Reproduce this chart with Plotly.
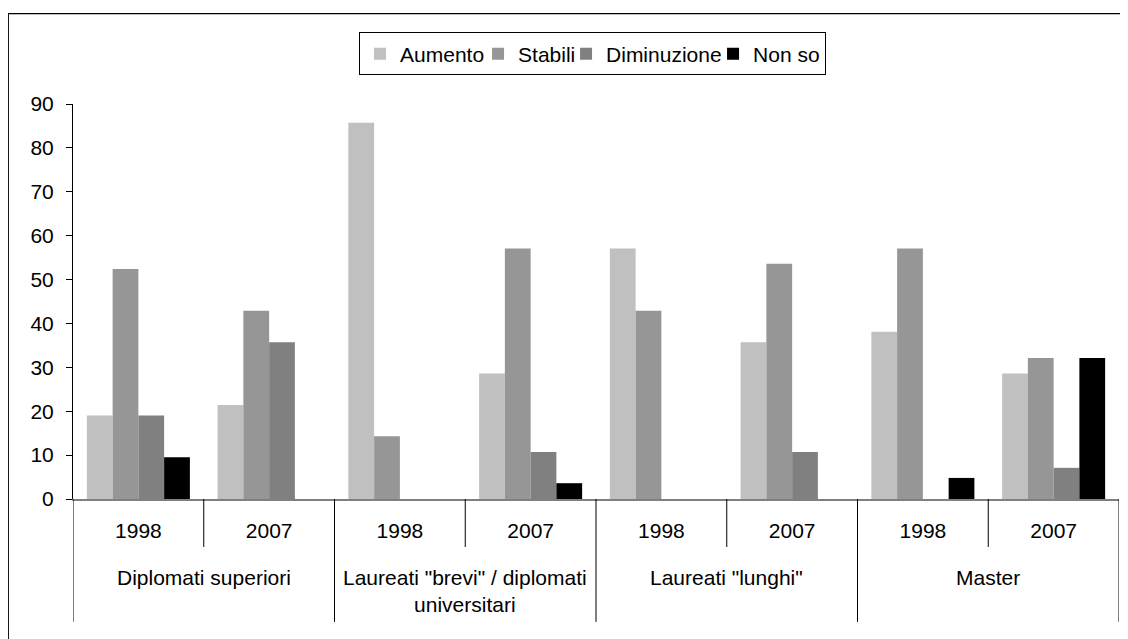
import plotly.graph_objects as go

# dati (% di risposte)
gruppi = ["Diplomati superiori", 'Laureati "brevi" / diplomati<br>universitari',
          'Laureati "lunghi"', "Master"]
anni = ["1998", "2007"]
serie = ["Aumento", "Stabili", "Diminuzione", "Non so"]
colori = ["#c0c0c0", "#969696", "#808080", "#000000"]

aumento = [19.0, 21.4, 85.7, 28.6, 57.1, 35.7, 38.1, 28.6]
stabili = [52.4, 42.9, 14.3, 57.1, 42.9, 53.6, 57.1, 32.1]
diminuzione = [19.0, 35.7, 0, 10.7, 0, 10.7, 0, 7.1]
non_so = [9.5, 0, 0, 3.6, 0, 0, 4.8, 32.1]
valori = [aumento, stabili, diminuzione, non_so]

n_anni = len(anni)
n_slot = len(gruppi) * n_anni
posizioni = list(range(n_slot))
etichette_anni = [a for g in gruppi for a in anni]

FONT = "Arial, Liberation Sans, sans-serif"
# larghezze voce legenda (px) per avvicinare le voci come nell'originale
larghezze_legenda = [73, 43, 102, 0]

fig = go.Figure()
for nome, col, val, lw in zip(serie, colori, valori, larghezze_legenda):
    fig.add_trace(go.Bar(
        x=posizioni, y=val, name=nome,
        marker=dict(color=col, line=dict(width=0)),
        legendwidth=lw if lw else None,
    ))

# separatori sotto l'asse x
shapes = []
for k in range(n_slot + 1):
    y1 = -0.311 if k % n_anni == 0 else -0.1215
    shapes.append(dict(type="line", xref="x", yref="paper",
                       x0=k - 0.5, x1=k - 0.5, y0=0, y1=y1,
                       line=dict(color="#000000", width=1)))
# cornice esterna
shapes.append(dict(type="rect", xref="paper", yref="paper",
                   x0=-0.0619, x1=1.05, y0=-0.45, y1=1.229,
                   line=dict(color="#000000", width=1.3)))

# etichette dei gruppi
annotations = []
for i, g in enumerate(gruppi):
    annotations.append(dict(
        text=g, x=i * n_anni + (n_anni - 1) / 2, xref="x",
        y=-0.1646, yref="paper", yanchor="top", xanchor="center",
        showarrow=False, font=dict(size=21), align="center",
    ))

fig.update_layout(
    width=1128, height=639,
    margin=dict(l=65, r=17, t=96, b=148),
    paper_bgcolor="white", plot_bgcolor="white",
    font=dict(family=FONT, size=21, color="#000000"),
    barmode="group", bargap=0.212, bargroupgap=0,
    showlegend=True,
    legend=dict(orientation="h", x=0.4967, xanchor="center", y=1.1266, yanchor="middle",
                bordercolor="#000000", borderwidth=1, font=dict(size=21),
                traceorder="normal"),
    shapes=shapes,
    annotations=annotations,
)
fig.update_xaxes(
    range=[-0.5, n_slot - 0.5], tickvals=posizioni, ticktext=etichette_anni,
    ticks="", ticklabelstandoff=12,
    showline=True, linecolor="#808080", linewidth=1.5,
    showgrid=False, zeroline=False,
)
fig.update_yaxes(
    range=[0, 90], dtick=10, showgrid=False, zeroline=False,
    showline=True, linecolor="#000000", linewidth=1,
    ticks="outside", ticklen=6, tickcolor="#000000", ticklabelstandoff=8,
)

fig.write_html("out.html")
